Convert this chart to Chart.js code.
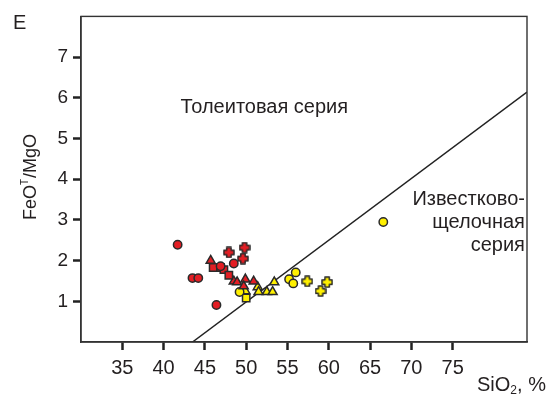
<!DOCTYPE html>
<html>
<head>
<meta charset="utf-8">
<script src="https://cdn.jsdelivr.net/npm/chart.js@4.4.1/dist/chart.umd.min.js"></script>
<style>
  html, body { margin: 0; padding: 0; background: #fff; }
  #wrap { width: 553px; height: 396px; position: relative; }
</style>
</head>
<body>
<div id="wrap"><canvas id="chart" width="553" height="396"></canvas></div>
<script>
// SiO2 (%) and FeO(T)/MgO for each rock group
const redCircleSi = [41.7, 43.5, 44.2, 46.4, 46.9, 48.5];
const redCircleFeMg = [2.39, 1.57, 1.57, 0.91, 1.86, 1.93];
const redSquareSi = [46.0, 46.9, 47.3, 47.9];
const redSquareFeMg = [1.83, 1.83, 1.78, 1.64];
const redTriangleSi = [45.7, 48.5, 48.9, 49.9, 50.9, 49.7];
const redTriangleFeMg = [2.00, 1.49, 1.47, 1.54, 1.49, 1.37];
const redCrossSi = [47.9, 49.8, 49.6];
const redCrossFeMg = [2.20, 2.32, 2.05];

const yellowCircleSi = [49.2, 55.2, 56.0, 55.7, 66.6];
const yellowCircleFeMg = [1.23, 1.54, 1.71, 1.44, 2.95];
const yellowSquareSi = [50.0];
const yellowSquareFeMg = [1.08];
const yellowTriangleSi = [49.9, 51.4, 51.5, 52.5, 53.2, 53.4];
const yellowTriangleFeMg = [1.25, 1.35, 1.23, 1.23, 1.23, 1.47];
const yellowCrossSi = [57.4, 59.8, 59.0];
const yellowCrossFeMg = [1.49, 1.47, 1.25];

// tholeiitic / calc-alkaline dividing line
const boundarySi = [43.5, 84];
const boundaryFeMg = [0, 6.14];

// axis ticks
const xTickValues = [35, 40, 45, 50, 55, 60, 65, 70, 75];
const yTickValues = [1, 2, 3, 4, 5, 6, 7];

const RED = '#e31e24';
const YELLOW = '#fff000';
const EDGE = '#2a2a2a';
const INK = '#231f20';
const FONT = '"Liberation Sans", Arial, sans-serif';

const pts = (xs, ys) => xs.map((x, i) => ({ x: x, y: ys[i] }));

// filled plus-shaped marker with outline
function plusMarker(fill) {
  const s = 12;
  const c = document.createElement('canvas');
  c.width = s; c.height = s;
  const g = c.getContext('2d');
  const a = 2.2, l = 5; // half arm width, half arm length
  const m = s / 2;
  g.beginPath();
  g.moveTo(m - a, m - l); g.lineTo(m + a, m - l); g.lineTo(m + a, m - a);
  g.lineTo(m + l, m - a); g.lineTo(m + l, m + a); g.lineTo(m + a, m + a);
  g.lineTo(m + a, m + l); g.lineTo(m - a, m + l); g.lineTo(m - a, m + a);
  g.lineTo(m - l, m + a); g.lineTo(m - l, m - a); g.lineTo(m - a, m - a);
  g.closePath();
  g.fillStyle = fill; g.fill();
  g.lineWidth = 1.5; g.strokeStyle = EDGE; g.lineJoin = 'round'; g.stroke();
  return c;
}

function markerSet(xs, ys, fill, style, radius) {
  return {
    type: 'scatter',
    data: pts(xs, ys),
    pointStyle: style,
    pointRadius: radius,
    pointBackgroundColor: fill,
    pointBorderColor: EDGE,
    pointBorderWidth: 1.5,
    order: 0
  };
}

const frameAndText = {
  id: 'frameAndText',
  afterDraw(chart) {
    const { ctx, chartArea: a, scales: { x, y } } = chart;
    ctx.save();
    // frame around the plot
    ctx.strokeStyle = '#333';
    ctx.lineWidth = 1.4;
    ctx.strokeRect(a.left, a.top, a.right - a.left, a.bottom - a.top);

    ctx.fillStyle = INK;
    ctx.textBaseline = 'middle';
    ctx.font = '20px ' + FONT;
    // field labels
    ctx.textAlign = 'center';
    ctx.fillText('Толеитовая серия', x.getPixelForValue(52.2), y.getPixelForValue(5.76));
    ctx.textAlign = 'right';
    const rx = x.getPixelForValue(83.75);
    ctx.fillText('Известково-', rx, 199);
    ctx.fillText('щелочная', rx, 222);
    ctx.fillText('серия', rx, 245);

    // panel letter
    ctx.textAlign = 'left';
    ctx.textBaseline = 'alphabetic';
    ctx.font = '20px ' + FONT;
    ctx.fillText('E', 13, 29);

    // x title: SiO2, %
    ctx.font = '20px ' + FONT;
    let tx = 477, ty = 391;
    ctx.fillText('SiO', tx, ty); tx += ctx.measureText('SiO').width;
    ctx.font = '12px ' + FONT;
    ctx.fillText('2', tx, ty + 3); tx += ctx.measureText('2').width;
    ctx.font = '20px ' + FONT;
    ctx.fillText(', %', tx, ty);

    // y title: FeO^T/MgO, rotated
    ctx.translate(36, 177);
    ctx.rotate(-Math.PI / 2);
    ctx.font = '18px ' + FONT;
    const p1 = 'FeO', p3 = '/MgO';
    const w1 = ctx.measureText(p1).width;
    ctx.font = '10px ' + FONT;
    const w2 = ctx.measureText('T').width + 1;
    ctx.font = '18px ' + FONT;
    const w3 = ctx.measureText(p3).width;
    let sx = -(w1 + w2 + w3) / 2;
    ctx.fillText(p1, sx, 0); sx += w1;
    ctx.font = '10px ' + FONT;
    ctx.fillText('T', sx, -8); sx += w2;
    ctx.font = '18px ' + FONT;
    ctx.fillText(p3, sx, 0);
    ctx.restore();
  }
};

new Chart(document.getElementById('chart'), {
  data: {
    datasets: [
      markerSet(redCircleSi, redCircleFeMg, RED, 'circle', 4.2),
      markerSet(redSquareSi, redSquareFeMg, RED, 'rect', 5.2),
      markerSet(redTriangleSi, redTriangleFeMg, RED, 'triangle', 5.2),
      markerSet(redCrossSi, redCrossFeMg, RED, plusMarker(RED), 5),
      markerSet(yellowCircleSi, yellowCircleFeMg, YELLOW, 'circle', 4.2),
      markerSet(yellowSquareSi, yellowSquareFeMg, YELLOW, 'rect', 5.2),
      markerSet(yellowTriangleSi, yellowTriangleFeMg, YELLOW, 'triangle', 5.2),
      markerSet(yellowCrossSi, yellowCrossFeMg, YELLOW, plusMarker(YELLOW), 5),
      {
        type: 'line',
        data: pts(boundarySi, boundaryFeMg),
        borderColor: '#222',
        borderWidth: 1.5,
        pointRadius: 0,
        fill: false,
        order: 5
      }
    ]
  },
  options: {
    responsive: false,
    devicePixelRatio: 1,
    animation: false,
    events: [],
    layout: { padding: { left: 0, right: 26, top: 13, bottom: 0 } },
    plugins: { legend: { display: false }, tooltip: { enabled: false } },
    scales: {
      x: {
        type: 'linear',
        min: 30, max: 84,
        afterBuildTicks: s => { s.ticks = xTickValues.map(v => ({ value: v })); },
        afterFit: s => { s.height = 54; },
        grid: { drawOnChartArea: false, drawTicks: true, tickLength: 8, tickWidth: 2.5, tickColor: '#222' },
        border: { display: true, color: '#333', width: 1.4 },
        ticks: { color: INK, font: { family: FONT, size: 20 }, padding: 6, maxRotation: 0, autoSkip: false }
      },
      y: {
        type: 'linear',
        min: 0, max: 8,
        afterBuildTicks: s => { s.ticks = yTickValues.map(v => ({ value: v })); },
        afterFit: s => { s.width = 81; },
        grid: { drawOnChartArea: false, drawTicks: true, tickLength: 8, tickWidth: 2.5, tickColor: '#222' },
        border: { display: true, color: '#333', width: 1.4 },
        ticks: { color: INK, font: { family: FONT, size: 19 }, padding: 5, autoSkip: false }
      }
    }
  },
  plugins: [frameAndText]
});
</script>
</body>
</html>
